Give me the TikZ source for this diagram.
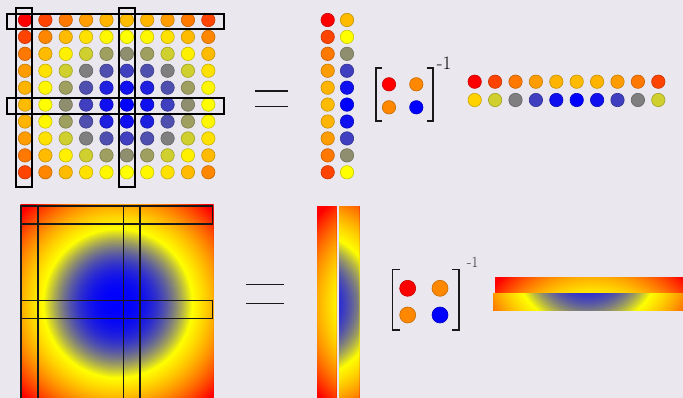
\documentclass[tikz,border=0pt]{standalone}
\usepackage{xcolor}
\usetikzlibrary{calc}

\definecolor{bgpaper}{RGB}{234,232,238}
\definecolor{dotred}{RGB}{255,0,0}
\definecolor{dotorange}{RGB}{255,136,0}
\definecolor{dotblue}{RGB}{0,0,255}
\definecolor{expgray}{RGB}{50,50,50}

% colour of a sample from its squared distance to the centre
\newcommand{\fieldcolor}[2]{%
  \pgfmathtruncatemacro{\fcR}{#2<16 ? 255*#2/16 : 255}%
  \pgfmathtruncatemacro{\fcG}{#2<16 ? 255*#2/16 : 255*(50-#2)/34}%
  \pgfmathtruncatemacro{\fcB}{#2<16 ? 255*(1-#2/16) : 0}%
  \definecolor{#1}{RGB}{\fcR,\fcG,\fcB}%
}

% continuous field: rings round a centre (yellow at 75, red near 138)
\newcommand{\fieldrings}[2]{%
  \foreach \rr in {140,139,...,1} {
    \pgfmathsetmacro{\dd}{\rr<75 ? 16*(\rr/75)^2.5 : min(16*(\rr/75)^2, 50)}
    \fieldcolor{fc}{\dd}
    \fill[fc] (#1,#2) circle[radius=\rr pt];
  }%
}

\tikzset{
  sample/.style={fill=#1, draw=#1!78!black, line width=0.6pt},
  selbox/.style={draw=black, line width=2.2pt},
  fieldbox/.style={draw=black!90, line width=1.6pt},
  eqbar/.style={draw=black!90, line width=1.3pt},
  bracket/.style={draw=black!90, line width=#1},
}

\begin{document}
\begin{tikzpicture}[x=1pt, y=-1pt]
  \useasboundingbox[fill=bgpaper] (0,0) rectangle (683,398);

  % ----- Top: sampled field -----
  \foreach \i in {0,...,9} {
    \foreach \j in {0,...,9} {
      \pgfmathtruncatemacro{\dd}{(\i-5)*(\i-5)+(\j-5)*(\j-5)}
      \fieldcolor{dc}{\dd}
      \filldraw[sample=dc] (25+20.37*\j, 20+16.92*\i) circle[radius=6.7pt];
    }
  }

  % Selected rows and columns
  \draw[selbox] (6.7,13.7) rectangle (224.3,29.3);
  \draw[selbox] (6.7,98) rectangle (224.3,113.7);
  \draw[selbox] (16.3,7.7) rectangle (31.7,187);
  \draw[selbox] (119.3,7.7) rectangle (134.7,187);

  % Equals
  \draw[eqbar] (255.3,91) -- (287.7,91);
  \draw[eqbar] (255.3,106.7) -- (287.7,106.7);

  % Columns
  \foreach \i in {0,...,9} {
    \pgfmathtruncatemacro{\dd}{(\i-5)*(\i-5)+25}
    \fieldcolor{dc}{\dd}
    \filldraw[sample=dc] (327.7, 20+16.92*\i) circle[radius=6.7pt];
    \pgfmathtruncatemacro{\dd}{(\i-5)*(\i-5)}
    \fieldcolor{dc}{\dd}
    \filldraw[sample=dc] (347, 20+16.92*\i) circle[radius=6.7pt];
  }

  % Intersection matrix
  \draw[bracket=2pt] (382,68.3) -- (376,68.3) -- (376,120.7) -- (382,120.7);
  \draw[bracket=2pt] (426.7,68.3) -- (432.7,68.3) -- (432.7,120.7) -- (426.7,120.7);
  \filldraw[sample=dotred] (389,84.3) circle[radius=6.7pt];
  \filldraw[sample=dotorange] (416.3,84.3) circle[radius=6.7pt];
  \filldraw[sample=dotorange] (389,107.3) circle[radius=6.7pt];
  \filldraw[sample=dotblue] (416.3,107.3) circle[radius=6.7pt];
  \node[font=\fontsize{19}{19}\selectfont, inner sep=0pt] (invtop) at (444,63) {-1};

  % Rows
  \foreach \dv [count=\j from 0] in {22,13,8,4,1,0,1,4,8,13} {
    \pgfmathtruncatemacro{\dd}{(\j-5)*(\j-5)+25}
    \fieldcolor{dc}{\dd}
    \filldraw[sample=dc] (474.7+20.4*\j, 81.7) circle[radius=6.7pt];
    \fieldcolor{dc}{\dv}
    \filldraw[sample=dc] (474.7+20.4*\j, 100) circle[radius=6.7pt];
  }

  % ----- Bottom: continuous field -----
  \begin{scope}
    \clip (20.7,205) rectangle (213.3,398);
    \fieldrings{118}{303.5}
  \end{scope}

  \draw[fieldbox] (21,206) rectangle (212.3,224);
  \draw[fieldbox] (21,300.5) rectangle (212.3,318.5);
  \draw[fieldbox] (21,206) rectangle (38,399);
  \draw[fieldbox] (123.5,206) rectangle (140,399);

  % Equals
  \draw[eqbar] (246,284.3) -- (284,284.3);
  \draw[eqbar] (246,303.3) -- (284,303.3);

  % Column strips
  \begin{scope}
    \clip (317,207) rectangle (336,398);
    \fieldrings{415}{305}
  \end{scope}
  \begin{scope}
    \clip (339,207) rectangle (359,398);
    \fieldrings{302}{305}
  \end{scope}

  % Intersection matrix
  \draw[bracket=1.4pt] (400,269.3) -- (392.3,269.3) -- (392.3,330) -- (400,330);
  \draw[bracket=1.4pt] (451.7,269.3) -- (459,269.3) -- (459,330) -- (451.7,330);
  \filldraw[sample=dotred] (407.7,288.3) circle[radius=8pt];
  \filldraw[sample=dotorange] (440,288.3) circle[radius=8pt];
  \filldraw[sample=dotorange] (407.7,315) circle[radius=8pt];
  \filldraw[sample=dotblue] (440,315) circle[radius=8pt];
  \node[font=\fontsize{15.5}{15.5}\selectfont, text=expgray, inner sep=0pt] (invbot) at (472.7,262) {-1};

  % Row strips
  \begin{scope}
    \clip (495,278) rectangle (683,293);
    \fieldrings{592.3}{374}
  \end{scope}
  \begin{scope}
    \clip (493,293) rectangle (683,310);
    \fieldrings{587.5}{255}
  \end{scope}
\end{tikzpicture}
\end{document}
